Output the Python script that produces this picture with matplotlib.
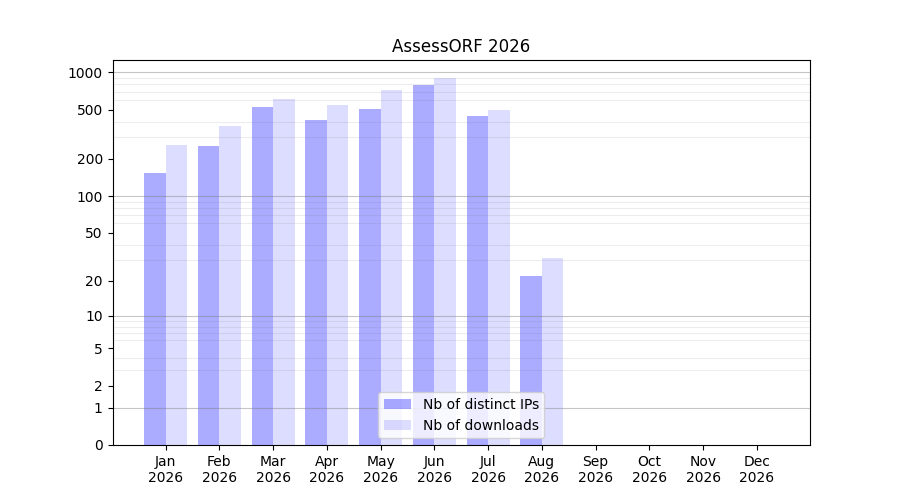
import numpy as np
import matplotlib
matplotlib.use("Agg")
import matplotlib.pyplot as plt

months = ["Jan", "Feb", "Mar", "Apr", "May", "Jun", "Jul", "Aug", "Sep", "Oct", "Nov", "Dec"]
year = "2026"
distinct_ips = [154, 253, 523, 411, 504, 787, 443, 22, 0, 0, 0, 0]
downloads = [259, 368, 607, 543, 717, 896, 494, 31, 0, 0, 0, 0]
ytick_values = [0, 1, 2, 5, 10, 20, 50, 100, 200, 500, 1000]
decades = [1, 10, 100, 1000]

fig, ax = plt.subplots(figsize=(9, 5), dpi=100)
ax.set_yscale('function', functions=(lambda v: np.log10(1 + np.clip(v, 0, None)),
                                     lambda v: 10 ** v - 1))
x = np.arange(len(months))
w = 0.4
ax.bar(x - w / 2, distinct_ips, w, color='blue', alpha=0.33, label='Nb of distinct IPs', linewidth=0)
ax.bar(x + w / 2, downloads, w, color='blue', alpha=0.135, label='Nb of downloads', linewidth=0)

ax.set_yticks(ytick_values)
ax.set_yticklabels([str(v) for v in ytick_values])
minor = [m * d for d in [1, 10, 100] for m in range(2, 10)]
ax.set_yticks(minor, minor=True)
ax.tick_params(axis='y', which='minor', length=0)
ax.grid(axis='y', which='minor', color='gray', alpha=0.15, linewidth=0.8)
for d in decades:
    ax.axhline(d, color='gray', alpha=0.45, linewidth=0.8)

ax.set_xticks(x)
ax.set_xticklabels([f"{m}\n{year}" for m in months])
ax.set_title("AssessORF 2026")
ax.legend(loc='lower center')
fig.savefig("out.png")
